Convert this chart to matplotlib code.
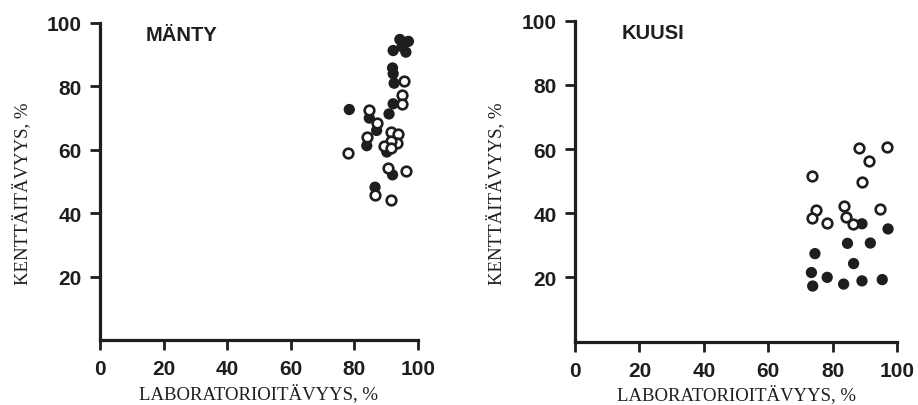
import matplotlib
matplotlib.use("Agg")
import matplotlib.pyplot as plt

# MÄNTY (pine) - lab vs field germination
manty_open_x = [84.7, 87.0, 83.9, 78.1, 94.9, 94.9, 95.6, 91.4, 93.8, 93.3, 91.4, 89.4, 91.6, 90.7, 96.2, 86.5, 91.4]
manty_open_y = [72.6, 68.4, 64.0, 59.0, 77.3, 74.5, 81.7, 65.6, 65.0, 62.2, 62.8, 61.1, 60.5, 54.2, 53.2, 45.6, 44.2]
manty_fill_x = [78.4, 84.7, 87.0, 83.9, 90.9, 92.2, 92.0, 92.2, 92.5, 94.3, 97.0, 92.2, 96.2, 95.0, 90.2, 92.0, 86.5]
manty_fill_y = [72.7, 70.0, 66.1, 61.3, 71.3, 74.5, 85.8, 84.0, 81.0, 94.8, 94.2, 91.3, 90.8, 92.5, 59.3, 52.1, 48.2]

# KUUSI (spruce)
kuusi_open_x = [88.3, 96.9, 91.2, 73.6, 89.1, 74.8, 73.6, 83.4, 94.6, 84.0, 78.2, 86.3]
kuusi_open_y = [60.3, 60.5, 56.3, 51.5, 49.8, 41.0, 38.6, 42.2, 41.3, 38.7, 36.9, 36.7]
kuusi_fill_x = [89.1, 97.2, 84.6, 91.7, 74.5, 86.5, 73.4, 78.3, 73.8, 83.4, 89.1, 95.4]
kuusi_fill_y = [36.7, 35.1, 30.6, 30.7, 27.4, 24.3, 21.5, 20.0, 17.3, 17.9, 18.9, 19.3]

ink = '#1e1e1e'
fig = plt.figure(figsize=(9.18, 4.06), dpi=100)
ax1 = fig.add_axes([0.1089, 0.160, 0.3464, 0.781])
ax2 = fig.add_axes([0.6264, 0.1564, 0.3508, 0.790])

panels = [
    (ax1, 'MÄNTY', manty_open_x, manty_open_y, manty_fill_x, manty_fill_y),
    (ax2, 'KUUSI', kuusi_open_x, kuusi_open_y, kuusi_fill_x, kuusi_fill_y),
]
for ax, name, ox, oy, fx, fy in panels:
    ax.scatter(fx, fy, s=66, c=ink, edgecolors='none', zorder=3, clip_on=False)
    ax.scatter(ox, oy, s=48, facecolors='white', edgecolors=ink, linewidths=1.9, zorder=4, clip_on=False)
    ax.set_xlim(0, 100)
    ax.set_ylim(0, 100)
    ax.set_xticks([0, 20, 40, 60, 80, 100])
    ax.set_yticks([20, 40, 60, 80, 100])
    for s in ['top', 'right']:
        ax.spines[s].set_visible(False)
    for s in ['left', 'bottom']:
        ax.spines[s].set_linewidth(2.3)
        ax.spines[s].set_color(ink)
    ax.tick_params(direction='out', length=7, width=2, color=ink)
    ax.tick_params(axis='x', pad=7)
    ax.tick_params(axis='y', pad=6)
    for lab in ax.get_xticklabels() + ax.get_yticklabels():
        lab.set_fontfamily('Liberation Sans')
        lab.set_fontweight('bold')
        lab.set_fontsize(15)
        lab.set_color(ink)
    ax.set_xlabel('LABORATORIOITÄVYYS, %', family='Liberation Serif', fontsize=13.5, color=ink, labelpad=4)
    ax.set_ylabel('KENTTÄITÄVYYS, %', family='Liberation Serif', fontsize=13.5, color=ink)
    ax.yaxis.set_label_coords(-0.215, 0.464)
    ax.text(14.5, 96.3, name, family='Liberation Sans', fontweight='bold', fontsize=14.5,
            color=ink, va='center', ha='left')

fig.savefig('out.png', dpi=100)
